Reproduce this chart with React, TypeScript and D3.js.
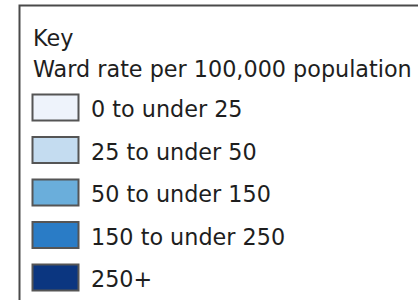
import React from "react";
import * as d3 from "d3";

const title = "Key";
const subtitle = "Ward rate per 100,000 population";
const categories = ["0 to under 25", "25 to under 50", "50 to under 150", "150 to under 250", "250+"];
const colors = ["#eef3fb", "#c4dcf0", "#6aaedb", "#2a7cc6", "#0b3680"];

const W = 420;
const H = 300;

export default function App() {
  const y = d3.scaleBand<string>().domain(categories).range([94, 306.5]).paddingInner(0).paddingOuter(0);
  const color = d3.scaleOrdinal<string, string>().domain(categories).range(colors);
  const font = "'DejaVu Sans', Verdana, sans-serif";
  return (
    <div style={{ position: "absolute", left: 0, top: 0 }}>
      <svg width={W} height={H} style={{ display: "block", background: "#fff" }}>
        <path d={`M19.5,${H} V5.5 H${W - 2}`} fill="none" stroke="#4a4a4a" strokeWidth={2} />
        <text x={33} y={46} fontFamily={font} fontSize={22.3} fill="#1e1e1e">{title}</text>
        <text x={33} y={77} fontFamily={font} fontSize={22.3} fill="#1e1e1e">{subtitle}</text>
        {categories.map((c) => {
          const top = y(c)!;
          return (
            <g key={c}>
              <rect x={32.5} y={top + 0.5} width={46} height={26} fill={color(c)} stroke="#555" strokeWidth={2} />
              <text x={91} y={top + 23} fontFamily={font} fontSize={22.3} fill="#1e1e1e">{c}</text>
            </g>
          );
        })}
      </svg>
    </div>
  );
}
